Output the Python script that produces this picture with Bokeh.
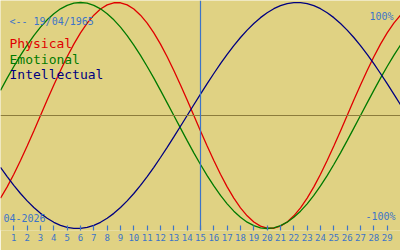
from bokeh.plotting import figure
from bokeh.models import Span, Label, FixedTicker, Range1d
from bokeh.embed import file_html
from bokeh.resources import INLINE

# Data: biorhythm values (-1..1) sampled every half day, day 0 .. day 30
days = [i / 2 for i in range(61)]
physical = [-0.7308, -0.6313, -0.5196, -0.3984, -0.2698, -0.1362, 0.0, 0.1362, 0.2698, 0.3984,
            0.5196, 0.6313, 0.7308, 0.8170, 0.8879, 0.9423, 0.9791, 0.9977, 0.9977, 0.9791,
            0.9423, 0.8879, 0.8170, 0.7308, 0.6313, 0.5196, 0.3984, 0.2698, 0.1362, 0.0,
            -0.1362, -0.2698, -0.3984, -0.5196, -0.6313, -0.7308, -0.8170, -0.8879, -0.9423, -0.9791,
            -0.9977, -0.9977, -0.9791, -0.9423, -0.8879, -0.8170, -0.7308, -0.6313, -0.5196, -0.3984,
            -0.2698, -0.1362, 0.0, 0.1362, 0.2698, 0.3984, 0.5196, 0.6313, 0.7308, 0.8170, 0.8879]
emotional = [0.2225, 0.3303, 0.4339, 0.5321, 0.6235, 0.7071, 0.7818, 0.8467, 0.9010, 0.9439,
             0.9749, 0.9937, 1.0, 0.9937, 0.9749, 0.9439, 0.9010, 0.8467, 0.7818, 0.7071,
             0.6235, 0.5321, 0.4339, 0.3303, 0.2225, 0.1120, 0.0, -0.1120, -0.2225, -0.3303,
             -0.4339, -0.5321, -0.6235, -0.7071, -0.7818, -0.8467, -0.9010, -0.9439, -0.9749, -0.9937,
             -1.0, -0.9937, -0.9749, -0.9439, -0.9010, -0.8467, -0.7818, -0.7071, -0.6235, -0.5321,
             -0.4339, -0.3303, -0.2225, -0.1120, 0.0, 0.1120, 0.2225, 0.3303, 0.4339, 0.5321, 0.6235]
intellectual = [-0.4582, -0.5406, -0.6182, -0.6901, -0.7557, -0.8146, -0.8660, -0.9096, -0.9450, -0.9718,
                -0.9898, -0.9989, -0.9989, -0.9898, -0.9718, -0.9450, -0.9096, -0.8660, -0.8146, -0.7557,
                -0.6901, -0.6182, -0.5406, -0.4582, -0.3717, -0.2817, -0.1893, -0.0951, 0.0, 0.0951,
                0.1893, 0.2817, 0.3717, 0.4582, 0.5406, 0.6182, 0.6901, 0.7557, 0.8146, 0.8660,
                0.9096, 0.9450, 0.9718, 0.9898, 0.9989, 0.9989, 0.9898, 0.9718, 0.9450, 0.9096,
                0.8660, 0.8146, 0.7557, 0.6901, 0.6182, 0.5406, 0.4582, 0.3717, 0.2817, 0.1893, 0.0951]
day_ticks = list(range(1, 30))
today = 15
birth_text = "<-- 19/04/1965"
month_text = "04-2026"
series_names = ["Physical", "Emotional", "Intellectual"]

BG = "#E0D283"
BLUE = "#3C74C8"
FONT = "DejaVu Sans Mono"
colors = ["#E00000", "#007A00", "#000080"]

p = figure(width=400, height=250, output_backend="svg", toolbar_location=None,
           x_range=Range1d(0, 30), y_range=Range1d(-1.0177, 1.0177),
           min_border_left=0, min_border_right=0, min_border_top=0, min_border_bottom=20)
p.background_fill_color = BG
p.border_fill_color = BG
p.outline_line_color = None
p.grid.visible = False
p.yaxis.visible = False

xa = p.xaxis[0]
xa.ticker = FixedTicker(ticks=day_ticks)
xa.axis_line_color = None
xa.major_tick_in = 5
xa.major_tick_out = 0
xa.minor_tick_line_color = None
xa.major_tick_line_color = BLUE
xa.major_tick_line_width = 1.2
xa.major_label_text_color = BLUE
xa.major_label_text_font = FONT
xa.major_label_text_font_size = "9px"
xa.major_label_standoff = 3

p.add_layout(Span(location=0, dimension="width", line_color="#8C7C3C", line_width=1))
p.add_layout(Span(location=today, dimension="height", line_color=BLUE, line_width=1.2))

for vals, c in zip([physical, emotional, intellectual], colors):
    p.line(days, vals, line_color=c, line_width=1.3)

def lab(text, x, y_pix, color, size, align="left"):
    p.add_layout(Label(x=x, y=230 - y_pix, x_units="screen", y_units="screen", text=text,
                       text_color=color, text_font=FONT, text_font_size=size,
                       text_align=align, text_baseline="alphabetic"))

lab(birth_text, 9, 20.5, BLUE, "10px")
for name, c, yb in zip(series_names, colors, [42.5, 58.5, 73.5]):
    lab(name, 9, yb, c, "13px")
lab("100%", 393, 15.5, BLUE, "10px", "right")
lab("-100%", 395, 216, BLUE, "10px", "right")
lab(month_text, 3, 217, BLUE, "10px")

open("out.html", "w").write(file_html(p, INLINE))
